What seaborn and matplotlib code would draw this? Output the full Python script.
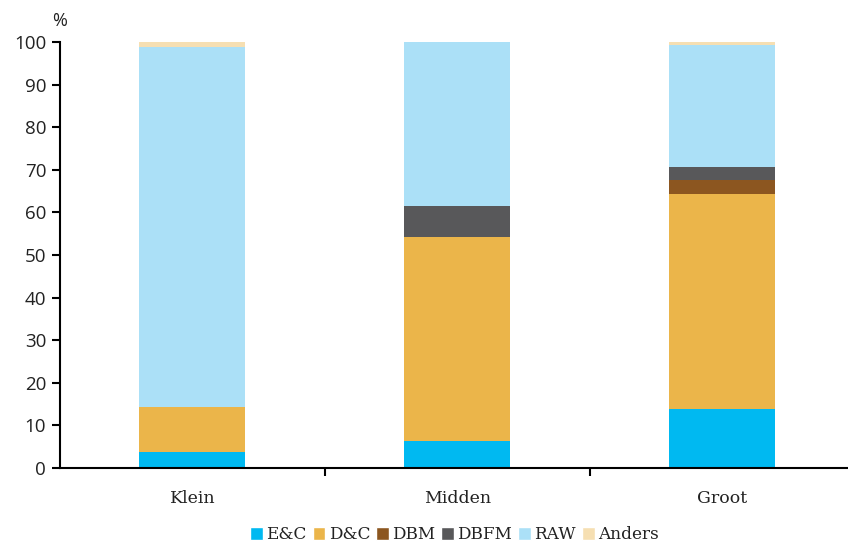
import matplotlib
matplotlib.use("Agg")
import matplotlib.pyplot as plt
import seaborn as sns
import pandas as pd
from matplotlib.patches import Patch

# data
categories = ["Klein", "Midden", "Groot"]
series = ["E&C", "D&C", "DBM", "DBFM", "RAW", "Anders"]
ec = [3.8, 6.3, 13.9]
dc = [10.5, 47.9, 50.4]
dbm = [0.0, 0.0, 3.3]
dbfm = [0.0, 7.3, 3.1]
raw = [84.5, 38.5, 28.6]
anders = [1.2, 0.0, 0.7]
colors = ["#00b9f1", "#ebb54a", "#8c5620", "#58585a", "#abe0f7", "#f6dfb2"]

df = pd.DataFrame({"cat": categories, "E&C": ec, "D&C": dc, "DBM": dbm,
                   "DBFM": dbfm, "RAW": raw, "Anders": anders})

sns.set_style("white")
plt.rcParams["font.family"] = ["Open Sans", "DejaVu Sans"]
serif = ["DejaVu Serif", "Liberation Serif"]

fig = plt.figure(figsize=(8.48, 5.47), dpi=100)
ax = fig.add_axes([0.0708, 0.1444, 0.929, 0.779])

bottom = pd.Series([0.0] * len(categories))
for name, col in zip(series, colors):
    sns.barplot(x=df["cat"], y=df[name], color=col, width=0.40,
                bottom=bottom.values, ax=ax, saturation=1, linewidth=0)
    bottom = bottom + df[name]

ax.set_ylim(0, 100)
ax.set_xlim(-0.5, 2.475)
ax.set_yticks(range(0, 101, 10))
ax.set_xlabel("")
ax.set_ylabel("")
for s in ["top", "right"]:
    ax.spines[s].set_visible(False)
for s in ["left", "bottom"]:
    ax.spines[s].set_color("black")
    ax.spines[s].set_linewidth(1.5)
ax.tick_params(axis="y", direction="out", length=6, width=1.5, color="black",
               labelsize=13.5, labelcolor="#222222", left=True, pad=4)
ax.tick_params(axis="x", which="major", length=0, labelsize=12, pad=16)
ax.set_xticks([0.5, 1.5], minor=True)
ax.tick_params(axis="x", which="minor", direction="out", length=6, width=1.5,
               color="black", bottom=True)
for lab in ax.get_xticklabels():
    lab.set_family(serif)
    lab.set_fontsize(12.5)
    lab.set_color("#222222")

fig.text(0.062, 0.962, "%", fontsize=13, color="#222222", va="center", ha="left")

handles = [Patch(facecolor=c, label=n) for n, c in zip(series, colors)]
leg = fig.legend(handles=handles, loc="center", bbox_to_anchor=(0.536, 0.022), ncol=6,
                 frameon=False, handlelength=0.75, handleheight=0.75, handletextpad=0.2,
                 columnspacing=0.35, prop={"family": serif, "size": 12.2})
for t in leg.get_texts():
    t.set_color("#222222")

fig.savefig("out.png", dpi=100)
